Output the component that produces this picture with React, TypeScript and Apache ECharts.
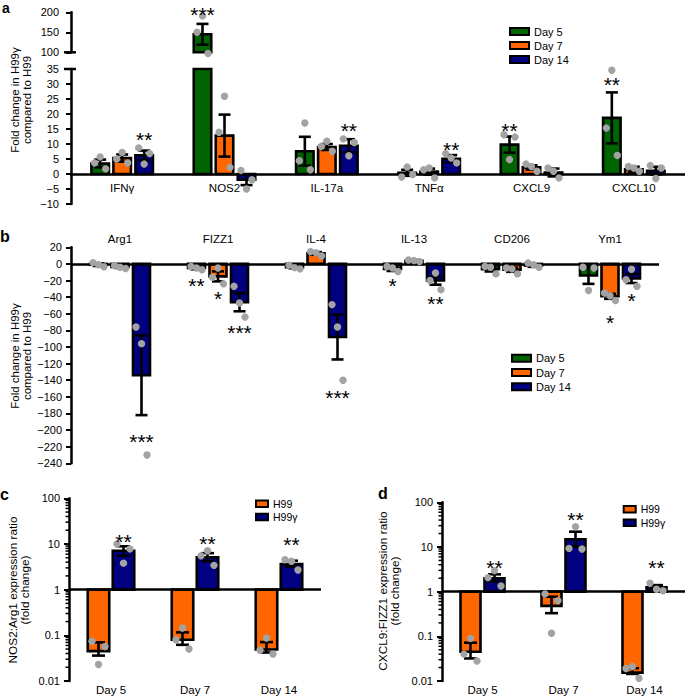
import React, { useEffect, useRef } from "react";
import * as echarts from "echarts";

const FONT = "'Liberation Sans', Arial, Helvetica, sans-serif";
const GREEN = "#006400";
const ORANGE = "#ff6600";
const NAVY = "#000080";
const DOT = "#a3a3a3";

// ---------- Panel a ----------
const catsA = ["IFNγ", "NOS2", "IL-17a", "TNFα", "CXCL9", "CXCL10"];
const daysAB = ["Day 5", "Day 7", "Day 14"];
const aDay5 = [3.5, 145, 7.6, 0.4, 9.8, 18.7];
const aDay7 = [5.3, 12.8, 9.0, 0.8, 2.2, 1.6];
const aDay14 = [6.2, -1.9, 9.4, 5.1, 0.5, 1.1];
const aSem5 = [1.3, 26, 4.8, 1.0, 2.7, 8.5];
const aSem7 = [1.2, 7.0, 1.0, 1.0, 0.7, 0.8];
const aSem14 = [1.6, 1.8, 2.2, 1.2, 1.3, 1.3];
const aPts5 = [[3.7, 5.7, 1.7], [150, 191, 97], [4.4, 17, 1.4], [-1, 2.3, -0.2], [13.1, 4.8, 12.3], [15.3, 34.6, 6.2]];
const aPts7 = [[5, 7.2, 3.7], [13.9, 25.9, 2.2], [9.2, 10.9, 7.6], [1.4, 2, -1.3], [3.3, 2.5, 0.9], [2.5, 2, 0.9]];
const aPts14 = [[8.7, 3.3, 6.8], [1.2, -5, -1.9], [11.7, 6.1, 10.5], [6.8, 5.3, 3.7], [2, 0.9, -1.3], [2.8, -1.5, 2]];
const aStars: [number, number, number, string][] = [
  [0, 2, 13.1, "**"], [1, 0, 206, "***"], [2, 2, 15.9, "**"], [3, 2, 9.8, "**"], [4, 0, 16, "**"], [5, 0, 31.4, "**"],
];
const aBreak = 35;

// ---------- Panel b ----------
const catsB = ["Arg1", "FIZZ1", "IL-4", "IL-13", "CD206", "Ym1"];
const bDay5 = [-1, -5, -4, -6, -6.3, -14];
const bDay7 = [-3.8, -15, 12.7, 3.7, -7, -39];
const bDay14 = [-134, -46, -88, -20, -2, -17.5];
const bSem5 = [1.5, 1.5, 1.3, 2.5, 2.8, 10];
const bSem7 = [1, 6, 1.5, 1, 2.5, 3];
const bSem14 = [48, 11, 27, 5, 1.5, 5.5];
const bPts5 = [[1.5, -1, -3.5], [-3, -5, -7], [-1.5, -4.5, -6], [-3.2, -5, -9.2], [-3, -4, -12], [-4, -32, -5]];
const bPts7 = [[-2, -4, -5.5], [-16, -5, -24], [14.8, 13.6, 9.6], [4.8, 4, 2.8], [-5, -6, -12], [-35, -38.4, -44]];
const bPts14 = [[-76, -96, -230], [-27, -47, -64], [-49, -76, -140], [-20, -11, -31], [1, -1, -4], [-19, -6.4, -27]];
const bStars: [number, number, number, string][] = [
  [0, 2, -208, "***"], [1, 0, -20, "**"], [1, 1, -36, "*"], [1, 2, -77, "***"], [2, 2, -155, "***"],
  [3, 0, -20, "*"], [3, 2, -42.5, "**"], [5, 1, -65, "*"], [5, 2, -39, "*"],
];

// ---------- Panels c, d ----------
const strains = ["H99", "H99γ"];
const ratioDays = ["Day 5", "Day 7", "Day 14"];
const cH99 = [0.045, 0.08, 0.049];
const cH99Lo = [0.036, 0.062, 0.042];
const cH99Hi = [0.07, 0.116, 0.071];
const cH99g = [7.1, 5.1, 3.65];
const cH99gLo = [5.5, 4.2, 3.2];
const cH99gHi = [8.9, 6.3, 4.3];
const cH99Pts = [[0.074, 0.023, 0.057], [0.08, 0.145, 0.05], [0.047, 0.087, 0.039]];
const cH99gPts = [[10, 3.8, 7.8], [5.5, 7.1, 3.4], [4.5, 4.2, 2.7]];
const cStars: [number, number, number, string][] = [[0, 1, 14.2, "**"], [1, 1, 12.9, "**"], [2, 1, 12, "**"]];

const dH99 = [0.045, 0.48, 0.0154];
const dH99Lo = [0.032, 0.33, 0.0144];
const dH99Hi = [0.072, 0.77, 0.0193];
const dH99g = [1.99, 14.9, 1.25];
const dH99gLo = [1.67, 10.2, 1.13];
const dH99gHi = [2.44, 22, 1.4];
const dH99Pts = [[0.04, 0.09, 0.028], [0.89, 0.117, 0.63], [0.019, 0.021, 0.0115]];
const dH99gPts = [[2.06, 2.95, 1.34], [9.3, 28.5, 9], [1.54, 1.13, 1.05]];
const dStars: [number, number, number, string][] = [[0, 1, 4.3, "**"], [1, 1, 52, "**"], [2, 1, 4.4, "**"]];

const logMinorMultipliers = [2, 3, 4, 5, 6, 7, 8, 9];
const logDecades = [0.01, 0.1, 1, 10];

interface PanelCfg {
  key: string;
  xi: number;
  yi: number;
  names: string[];
  colors: string[];
  means: (number | null)[][];
  lo: number[][];
  hi: number[][];
  pts: number[][][];
  stars: [number, number, number, string][];
  barW: number;
  spacing: number;
  jitter: number;
  capW: number;
  keep: (s: number, c: number) => boolean;
  base: number;
  baseLine?: number;
}

function panelSeries(p: PanelCfg): any[] {
  const n = p.names.length;
  const off = (s: number) => (s - (n - 1) / 2) * p.spacing;
  const out: any[] = [];
  p.means.forEach((vals, s) => {
    const bar: any = {
      type: "bar",
      name: p.names[s],
      xAxisIndex: p.xi,
      yAxisIndex: p.yi,
      data: vals,
      barWidth: p.barW,
      barGap: ((p.spacing - p.barW) / p.barW) * 100 + "%",
      clip: true,
      z: 2,
      itemStyle: { color: p.colors[s], borderWidth: 0 },
      emphasis: { disabled: true },
    };
    if (s === 0 && p.baseLine !== undefined) {
      bar.markLine = {
        silent: true,
        symbol: "none",
        label: { show: false },
        lineStyle: { color: "#000", width: 2.5, type: "solid" },
        data: [{ yAxis: p.baseLine }],
        z: 3,
      };
    }
    out.push(bar);
  });

  // black outlines of the bars
  const outlineData: number[][] = [];
  p.means.forEach((vals, s) =>
    vals.forEach((v, c) => {
      if (v !== null && v !== undefined) outlineData.push([c, v, s]);
    })
  );
  out.push({
    type: "custom",
    name: p.key + "-outline",
    xAxisIndex: p.xi,
    yAxisIndex: p.yi,
    z: 3,
    silent: true,
    data: outlineData,
    renderItem: (params: any, api: any) => {
      const c = api.value(0) as number;
      const s = api.value(2) as number;
      const cs = params.coordSys;
      const top = api.coord([c, api.value(1)]);
      const bot = api.coord([c, p.base]);
      const clampY = (y: number) => Math.max(cs.y, Math.min(cs.y + cs.height, y));
      const y0 = clampY(top[1]);
      const y1 = clampY(bot[1]);
      return {
        type: "rect",
        shape: { x: top[0] + off(s) - p.barW / 2, y: Math.min(y0, y1), width: p.barW, height: Math.abs(y1 - y0) },
        style: { fill: "none", stroke: "#000", lineWidth: 2.6 },
      };
    },
  });

  const errData: number[][] = [];
  p.lo.forEach((arr, s) =>
    arr.forEach((lo, c) => {
      if (p.keep(s, c)) errData.push([c, lo, p.hi[s][c], s]);
    })
  );
  out.push({
    type: "custom",
    name: p.key + "-err",
    xAxisIndex: p.xi,
    yAxisIndex: p.yi,
    z: 4,
    silent: true,
    data: errData,
    renderItem: (params: any, api: any) => {
      const c = api.value(0) as number;
      const s = api.value(3) as number;
      const a = api.coord([c, api.value(1)]);
      const b = api.coord([c, api.value(2)]);
      const x = a[0] + off(s);
      const h = p.capW / 2;
      const st = { stroke: "#000", lineWidth: 2.6 };
      return {
        type: "group",
        children: [
          { type: "line", shape: { x1: x, y1: a[1], x2: x, y2: b[1] }, style: st },
          { type: "line", shape: { x1: x - h, y1: a[1], x2: x + h, y2: a[1] }, style: st },
          { type: "line", shape: { x1: x - h, y1: b[1], x2: x + h, y2: b[1] }, style: st },
        ],
      };
    },
  });

  const ptData: number[][] = [];
  p.pts.forEach((perCat, s) =>
    perCat.forEach((arr, c) => {
      if (!p.keep(s, c)) return;
      arr.forEach((v, j) => ptData.push([c, v, s, j]));
    })
  );
  out.push({
    type: "custom",
    name: p.key + "-pts",
    xAxisIndex: p.xi,
    yAxisIndex: p.yi,
    z: 5,
    silent: true,
    data: ptData,
    renderItem: (params: any, api: any) => {
      const c = api.value(0) as number;
      const s = api.value(2) as number;
      const j = api.value(3) as number;
      const pt = api.coord([c, api.value(1)]);
      return {
        type: "circle",
        shape: { cx: pt[0] + off(s) + (j - 1) * p.jitter, cy: pt[1], r: 3.7 },
        style: { fill: DOT },
      };
    },
  });

  const starList = p.stars;
  out.push({
    type: "custom",
    name: p.key + "-stars",
    xAxisIndex: p.xi,
    yAxisIndex: p.yi,
    z: 6,
    silent: true,
    data: starList.map((st) => [st[0], st[2], st[1]]),
    renderItem: (params: any, api: any) => {
      const c = api.value(0) as number;
      const s = api.value(2) as number;
      const pt = api.coord([c, api.value(1)]);
      const fs = 21;
      return {
        type: "text",
        x: pt[0] + off(s),
        y: pt[1] + fs * 0.22,
        style: {
          text: starList[params.dataIndex][3],
          fontSize: fs,
          fontFamily: FONT,
          fill: "#000",
          align: "center",
          verticalAlign: "middle",
        },
      };
    },
  });
  return out;
}

function breakMark(xi: number, yi: number, v: number): any {
  return {
    type: "custom",
    name: "break-" + yi,
    xAxisIndex: xi,
    yAxisIndex: yi,
    silent: true,
    z: 7,
    data: [[0, v]],
    renderItem: (params: any, api: any) => {
      const pt = api.coord([0, api.value(1)]);
      const x0 = params.coordSys.x;
      return {
        type: "line",
        shape: { x1: x0 - 7, y1: pt[1], x2: x0 + 5, y2: pt[1] },
        style: { stroke: "#000", lineWidth: 2.5 },
      };
    },
  };
}

function logMinor(xi: number, yi: number): any {
  const data: number[][] = [];
  logDecades.forEach((d) => logMinorMultipliers.forEach((m) => data.push([0, m * d])));
  return {
    type: "custom",
    name: "minor-" + yi,
    xAxisIndex: xi,
    yAxisIndex: yi,
    silent: true,
    z: 7,
    data,
    renderItem: (params: any, api: any) => {
      const pt = api.coord([0, api.value(1)]);
      const x0 = params.coordSys.x;
      return {
        type: "line",
        shape: { x1: x0 - 3.5, y1: pt[1], x2: x0, y2: pt[1] },
        style: { stroke: "#000", lineWidth: 1.5 },
      };
    },
  };
}

const minus = (v: number) => String(v).replace("-", "\u2212");
const logFmt = (v: number) => {
  const e = Math.round(Math.log10(v));
  return e >= 0 ? String(Math.pow(10, e)) : Math.pow(10, e).toFixed(-e);
};

function valueAxis(gi: number, extra: any): any {
  return {
    gridIndex: gi,
    type: "value",
    splitLine: { show: false },
    axisLine: { show: true, lineStyle: { color: "#000", width: 2.5 } },
    axisTick: { show: true, length: 5, lineStyle: { color: "#000", width: 2 } },
    axisLabel: { color: "#000", fontSize: 11, fontFamily: FONT, margin: 10, formatter: minus },
    ...extra,
  };
}

function catAxis(gi: number, data: string[], extra: any): any {
  return {
    gridIndex: gi,
    type: "category",
    data,
    axisTick: { show: false },
    axisLabel: { color: "#000", fontSize: 11.5, fontFamily: FONT, margin: 6 },
    ...extra,
  };
}

function legendGraphic(names: string[], colors: string[], x: number, yCenters: number[], w: number, h: number, fs: number): any[] {
  const out: any[] = [];
  names.forEach((nm, i) => {
    out.push({
      type: "rect",
      shape: { x, y: yCenters[i] - h / 2, width: w, height: h },
      style: { fill: colors[i], stroke: "#000", lineWidth: 2 },
    });
    out.push({
      type: "text",
      x: x + w + 5,
      y: yCenters[i],
      style: { text: nm, fill: "#000", fontSize: fs, fontFamily: FONT, verticalAlign: "middle" },
    });
  });
  return out;
}

function buildOption(): any {
  const aMeans = [aDay5, aDay7, aDay14];
  const aSems = [aSem5, aSem7, aSem14];
  const aLo = aMeans.map((m, s) => m.map((v, c) => v - aSems[s][c]));
  const aHi = aMeans.map((m, s) => m.map((v, c) => v + aSems[s][c]));
  const aPts = [aPts5, aPts7, aPts14];
  const isUpper = (s: number, c: number) => aMeans[s][c] > aBreak;

  const bMeans = [bDay5, bDay7, bDay14];
  const bSems = [bSem5, bSem7, bSem14];
  const bLo = bMeans.map((m, s) => m.map((v, c) => v - bSems[s][c]));
  const bHi = bMeans.map((m, s) => m.map((v, c) => v + bSems[s][c]));

  const dayColors = [GREEN, ORANGE, NAVY];
  const strainColors = [ORANGE, NAVY];

  const series: any[] = [
    ...panelSeries({
      key: "aU", xi: 0, yi: 0, names: daysAB, colors: dayColors,
      means: aMeans.map((m, s) => m.map((v, c) => (isUpper(s, c) ? v : null))),
      lo: aLo, hi: aHi, pts: aPts,
      stars: aStars.filter((st) => st[2] > 100),
      barW: 17.5, spacing: 22, jitter: 5.5, capW: 12,
      keep: isUpper, base: 0,
    }),
    ...panelSeries({
      key: "aL", xi: 1, yi: 1, names: daysAB, colors: dayColors,
      means: aMeans, lo: aLo, hi: aHi, pts: aPts,
      stars: aStars.filter((st) => st[2] <= 100),
      barW: 17.5, spacing: 22, jitter: 5.5, capW: 12,
      keep: (s, c) => !isUpper(s, c), base: 0,
    }),
    ...panelSeries({
      key: "b", xi: 2, yi: 2, names: daysAB, colors: dayColors,
      means: bMeans, lo: bLo, hi: bHi, pts: [bPts5, bPts7, bPts14],
      stars: bStars, barW: 17, spacing: 21.5, jitter: 5.5, capW: 12,
      keep: () => true, base: 0, baseLine: 0,
    }),
    ...panelSeries({
      key: "c", xi: 3, yi: 3, names: strains, colors: strainColors,
      means: [cH99, cH99g], lo: [cH99Lo, cH99gLo], hi: [cH99Hi, cH99gHi],
      pts: [cH99Pts, cH99gPts], stars: cStars,
      barW: 21.5, spacing: 25, jitter: 6.5, capW: 13,
      keep: () => true, base: 1, baseLine: 1,
    }),
    ...panelSeries({
      key: "d", xi: 4, yi: 4, names: strains, colors: strainColors,
      means: [dH99, dH99g], lo: [dH99Lo, dH99gLo], hi: [dH99Hi, dH99gHi],
      pts: [dH99Pts, dH99gPts], stars: dStars,
      barW: 20, spacing: 24, jitter: 6.5, capW: 13,
      keep: () => true, base: 1, baseLine: 1,
    }),
    breakMark(0, 0, 100),
    breakMark(1, 1, aBreak),
    logMinor(3, 3),
    logMinor(4, 4),
  ];

  const titleStyle = { fill: "#000", fontSize: 11.5, fontFamily: FONT, align: "center", verticalAlign: "middle", lineHeight: 12 };
  const letterStyle = { fill: "#000", fontSize: 16, fontWeight: "bold", fontFamily: FONT, verticalAlign: "middle" };

  return {
    animation: false,
    textStyle: { fontFamily: FONT },
    grid: [
      { left: 71, top: 12.3, width: 614, height: 40 },
      { left: 71, top: 69, width: 614, height: 135 },
      { left: 71, top: 247.3, width: 588, height: 216 },
      { left: 69, top: 498.3, width: 252, height: 182.7 },
      { left: 442, top: 502.3, width: 246, height: 178.7 },
    ],
    xAxis: [
      catAxis(0, catsA, { axisLine: { show: false }, axisLabel: { show: false } }),
      catAxis(1, catsA, {
        axisLine: { show: true, onZero: true, lineStyle: { color: "#000", width: 2.5 } },
        axisLabel: { color: "#000", fontSize: 11.5, fontFamily: FONT, margin: -22.5 },
      }),
      catAxis(2, catsB, { position: "top", axisLine: { show: false, onZero: false }, axisLabel: { color: "#000", fontSize: 11.5, fontFamily: FONT, margin: 2 } }),
      catAxis(3, ratioDays, { position: "bottom", axisLine: { show: false, onZero: false }, axisLabel: { color: "#000", fontSize: 11.5, fontFamily: FONT, margin: 3 } }),
      catAxis(4, ratioDays, { position: "bottom", axisLine: { show: false, onZero: false }, axisLabel: { color: "#000", fontSize: 11.5, fontFamily: FONT, margin: 3 } }),
    ],
    yAxis: [
      valueAxis(0, { min: 100, max: 200, interval: 50, axisLabel: { color: "#000", fontSize: 11, fontFamily: FONT, margin: 12, formatter: minus } }),
      valueAxis(1, { min: -10, max: 35, interval: 5, axisLabel: { color: "#000", fontSize: 11, fontFamily: FONT, margin: 12, formatter: minus } }),
      valueAxis(2, { min: -240, max: 20, interval: 20, axisLabel: { color: "#000", fontSize: 11, fontFamily: FONT, margin: 9, formatter: minus } }),
      valueAxis(3, { type: "log", logBase: 10, min: 0.01, max: 100, axisLabel: { color: "#000", fontSize: 11, fontFamily: FONT, margin: 9, formatter: logFmt } }),
      valueAxis(4, { type: "log", logBase: 10, min: 0.01, max: 100, axisLabel: { color: "#000", fontSize: 11, fontFamily: FONT, margin: 9, formatter: logFmt } }),
    ],
    graphic: [
      { type: "text", x: 2, y: 1, style: { ...letterStyle, fontSize: 14, verticalAlign: "top", text: "a" } },
      { type: "text", x: 0, y: 236, style: { ...letterStyle, text: "b" } },
      { type: "text", x: 0, y: 494, style: { ...letterStyle, text: "c" } },
      { type: "text", x: 378, y: 493, style: { ...letterStyle, text: "d" } },
      { type: "text", x: 21, y: 100, rotation: Math.PI / 2, style: { ...titleStyle, text: "Fold change in H99γ\ncompared to H99" } },
      { type: "text", x: 21, y: 356, rotation: Math.PI / 2, style: { ...titleStyle, text: "Fold change in H99γ\ncompared to H99" } },
      { type: "text", x: 18.5, y: 590, rotation: Math.PI / 2, style: { ...titleStyle, fontSize: 11.8, text: "NOS2:Arg1 expression ratio\n(fold change)" } },
      { type: "text", x: 388.5, y: 591, rotation: Math.PI / 2, style: { ...titleStyle, fontSize: 11.8, text: "CXCL9:FIZZ1 expression ratio\n(fold change)" } },
      ...legendGraphic(daysAB, dayColors, 510, [31.5, 45.5, 59.5], 19, 7, 11),
      ...legendGraphic(daysAB, dayColors, 512, [358.3, 372.5, 386.7], 19, 7, 11),
      ...legendGraphic(strains, strainColors, 256, [503.7, 517], 12, 6.5, 10.5),
      ...legendGraphic(strains, strainColors, 623.7, [509.3, 522.7], 12, 6.5, 10.5),
    ],
    series,
  };
}

export default function App() {
  const ref = useRef<HTMLDivElement>(null);
  useEffect(() => {
    document.body.style.margin = "0";
    const chart = echarts.init(ref.current!, null, { renderer: "svg" });
    chart.setOption(buildOption());
    return () => chart.dispose();
  }, []);
  return <div ref={ref} style={{ width: 685, height: 696 }} />;
}
